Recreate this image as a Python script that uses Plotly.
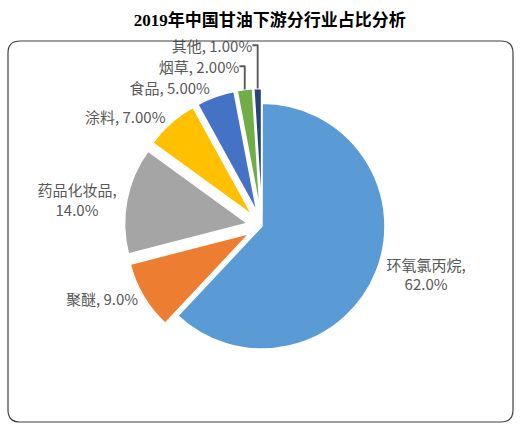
import plotly.graph_objects as go

# data
labels = ["环氧氯丙烷", "聚醚", "药品化妆品", "涂料", "食品", "烟草", "其他"]
shares = [62.0, 9.0, 14.0, 7.0, 5.0, 2.0, 1.0]
share_text = ["62.0%", "9.0%", "14.0%", "7.00%", "5.00%", "2.00%", "1.00%"]
colors = ["#5B9BD5", "#ED7D31", "#A5A5A5", "#FFC000", "#4472C4", "#70AD47", "#264478"]

W, H = 532, 427

# two-line labels for the long names, like the original
text = []
for lab, s in zip(labels, share_text):
    if len(lab) >= 5:
        text.append(f"{lab},<br>{s}")
    else:
        text.append(f"{lab}, {s}")

pulls = [0 if i == 0 else 0.12 for i in range(len(labels))]

fig = go.Figure(go.Pie(
    labels=labels,
    values=shares,
    text=text,
    textinfo="text",
    textposition="outside",
    sort=False,
    direction="clockwise",
    rotation=0,
    pull=pulls,
    marker=dict(colors=colors, line=dict(color="white", width=1.5)),
    textfont=dict(family="Noto Sans CJK SC", size=15, color="#595959"),
    domain=dict(x=[0.232, 0.753], y=[0.148, 0.793]),
    showlegend=False,
    hoverinfo="label+percent",
))

# rounded frame around the plot area
x0, x1 = 8 / W, 513 / W
y0, y1 = 1 - 422 / H, 1 - 41 / H
rx, ry = 12 / W, 12 / H
frame = (f"M {x0 + rx} {y1} L {x1 - rx} {y1} Q {x1} {y1} {x1} {y1 - ry} "
         f"L {x1} {y0 + ry} Q {x1} {y0} {x1 - rx} {y0} "
         f"L {x0 + rx} {y0} Q {x0} {y0} {x0} {y0 + ry} "
         f"L {x0} {y1 - ry} Q {x0} {y1} {x0 + rx} {y1} Z")

fig.update_layout(
    width=W,
    height=H,
    margin=dict(l=0, r=0, t=0, b=0),
    paper_bgcolor="white",
    plot_bgcolor="white",
    title=dict(
        text="<b>2019年中国甘油下游分行业占比分析</b>",
        x=0.507, xanchor="center",
        y=1 - 20 / H, yanchor="middle",
        font=dict(family="Liberation Serif, Noto Sans CJK SC", size=17, color="black"),
    ),
    shapes=[dict(type="path", path=frame, xref="paper", yref="paper",
                 line=dict(color="#404040", width=1.2))],
)

# the page body margin would push the figure off by 8px
fig.write_html("out.html", config={"displayModeBar": False},
               post_script="document.body.style.margin='0';")
